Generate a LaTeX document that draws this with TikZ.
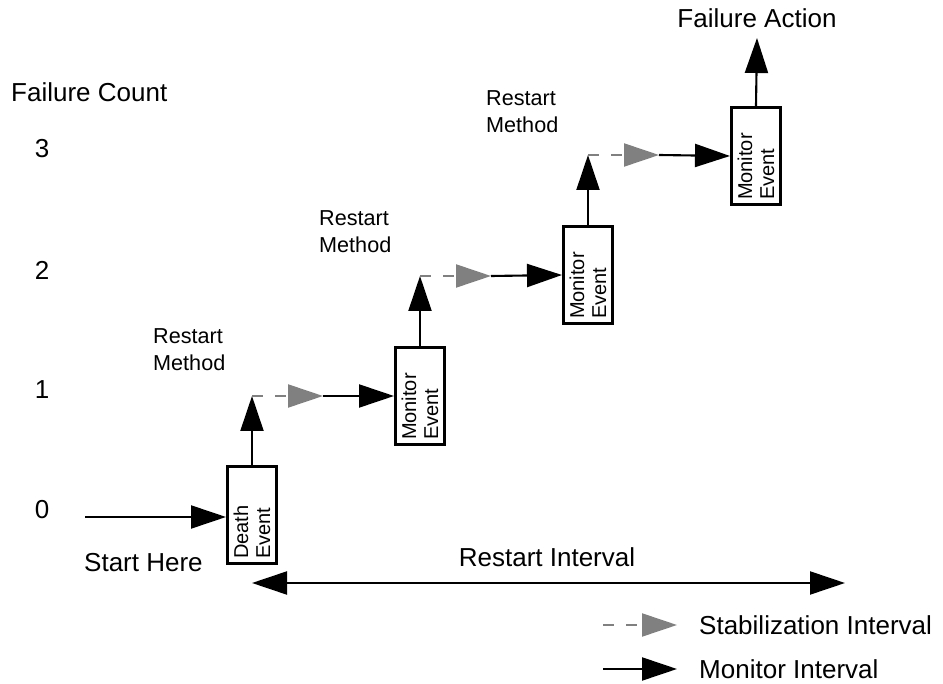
\documentclass[tikz,border=0pt]{standalone}
\usepackage{fontspec}
\setmainfont{Liberation Sans}
\usetikzlibrary{arrows.meta}

\begin{document}
\begin{tikzpicture}[x=0.2mm, y=-0.2mm,
    big/.style={font=\fontsize{14.8}{17}\selectfont},
    small/.style={font=\fontsize{12.3}{15.5}\selectfont, align=left, anchor=west},
    event/.style={draw, line width=1.7pt, rotate=90, text width=17.6mm,
      minimum height=9.8mm, inner xsep=0.9mm, inner ysep=0pt, align=left,
      font=\fontsize{11.4}{12.6}\selectfont},
    mon/.style={line width=1.2pt, -{Triangle[length=7mm, width=4.6mm]}},
    stab/.style={mon, color=gray, dash pattern=on 2.2mm off 2.4mm}]
\useasboundingbox (0,0) rectangle (943,684);

% Failure count axis
\node[big, anchor=west] (fc) at (5,92) {Failure Count};
\node[big] (n3) at (42,149) {3};
\node[big] (n2) at (42,270) {2};
\node[big] (n1) at (42,390) {1};
\node[big] (n0) at (42,510) {0};

% count 0
\coordinate (start) at (85,517);
\node[big, anchor=west] (here) at (78,563) {Start Here};
\node[event] (death) at (252,515) {Death\\Event};
\draw[mon] (start) -- (start -| death.north);

% count 1
\coordinate (r1) at (252,396);
\node[small] (rm1) at (147,350) {Restart\\Method};
\node[event] (mon1) at (420,396) {Monitor\\Event};
\draw[mon] (death.east) -- (r1);
\draw[stab] (r1) -- ++(71,0) coordinate (s1);
\draw[mon] (s1) -- (mon1.north);

% count 2
\coordinate (r2) at (420,276);
\node[small] (rm2) at (313,232) {Restart\\Method};
\node[event] (mon2) at (588,275) {Monitor\\Event};
\draw[mon] (mon1.east) -- (r2);
\draw[stab] (r2) -- ++(71,0) coordinate (s2);
\draw[mon] (s2) -- (mon2.north);

% count 3
\coordinate (r3) at (588,155);
\node[small] (rm3) at (480,112) {Restart\\Method};
\node[event] (mon3) at (756,156) {Monitor\\Event};
\draw[mon] (mon2.east) -- (r3);
\draw[stab] (r3) -- ++(71,0) coordinate (s3);
\draw[mon] (s3) -- (mon3.north);

% failure action
\node[big] (fa) at (757,18) {Failure Action};
\coordinate (fatip) at (757,38);
\draw[mon] (mon3.east) -- (fatip);

% restart interval
\coordinate (ri1) at (252,583);
\coordinate (ri2) at (845,583);
\node[big] (ri) at (547,557) {Restart Interval};
\draw[line width=1.2pt, {Triangle[length=7mm, width=4.6mm]}-{Triangle[length=7mm, width=4.6mm]}] (ri1) -- (ri2);

% legend
\coordinate (ls1) at (603,625);
\coordinate (ls2) at (677,625);
\coordinate (lm1) at (603,669);
\coordinate (lm2) at (677,669);
\draw[stab] (ls1) -- (ls2);
\draw[mon] (lm1) -- (lm2);
\node[big, anchor=west] (lstab) at (693,625) {Stabilization Interval};
\node[big, anchor=west] (lmon) at (693,669) {Monitor Interval};
\end{tikzpicture}
\end{document}
